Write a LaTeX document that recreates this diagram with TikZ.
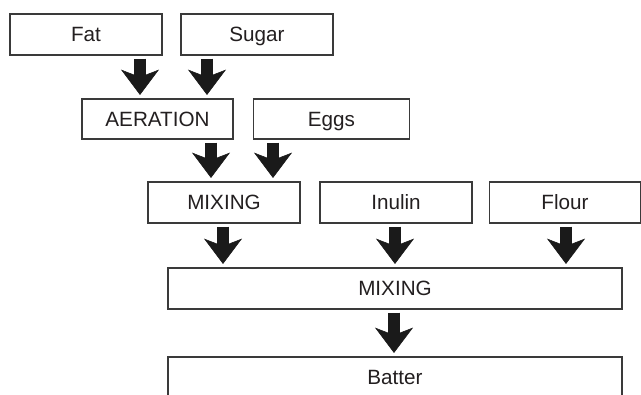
\documentclass[tikz,border=0pt]{standalone}
\usepackage{fontspec}
\setmainfont{Liberation Sans}
\usetikzlibrary{arrows.meta}
\definecolor{boxline}{HTML}{3A3A3A}
\definecolor{txt}{HTML}{231F20}
\definecolor{arr}{HTML}{1A1A1A}
\begin{document}
\begin{tikzpicture}[x=0.75pt,y=-0.75pt,
  box/.style={draw=boxline, line width=0.85pt, fill=white, inner sep=0pt,
    text=txt, font=\fontsize{15.5}{18}\selectfont, minimum height=30.75pt,
    text height=11.1pt, text depth=0pt},
  flowarrow/.style={draw=arr, line width=9pt,
    -{Stealth[length=19pt, width=28.5pt, inset=5.5pt, line width=0.4pt, fill=arr]},
    shorten <=2.25pt, shorten >=2.6pt}]
\useasboundingbox (0,0) rectangle (641,394);
% boxes
\node[box, minimum width=114pt] (fat) at (86,34.5) {Fat};
\node[box, minimum width=114pt] (sugar) at (257,34.5) {Sugar};
\node[box, minimum width=113.25pt, minimum height=30pt] (aer) at (157.5,119) {AERATION};
\node[box, minimum width=117pt, minimum height=30pt] (eggs) at (331.5,119) {Eggs};
\node[box, minimum width=114pt] (mixa) at (224,202.5) {MIXING};
\node[box, minimum width=114pt] (inulin) at (396,202.5) {Inulin};
\node[box, minimum width=113.25pt] (flour) at (565,202.5) {Flour};
\node[box, minimum width=340.5pt] (mixb) at (395,288.5) {MIXING};
\node[box, minimum width=340.5pt] (batter) at (395,377.5) {Batter};
% arrow columns
\coordinate (c1) at (140,0);
\coordinate (c2) at (207,0);
\coordinate (c3) at (211,0);
\coordinate (c4) at (273,0);
\coordinate (c5) at (223,0);
\coordinate (c6) at (395,0);
\coordinate (c7) at (566,0);
\coordinate (c8) at (394,0);
% arrows
\draw[flowarrow] (fat.south -| c1) -- (aer.north -| c1);
\draw[flowarrow] (sugar.south -| c2) -- (aer.north -| c2);
\draw[flowarrow] (aer.south -| c3) -- (mixa.north -| c3);
\draw[flowarrow] (eggs.south -| c4) -- (mixa.north -| c4);
\draw[flowarrow] (mixa.south -| c5) -- (mixb.north -| c5);
\draw[flowarrow] (inulin.south -| c6) -- (mixb.north -| c6);
\draw[flowarrow] (flour.south -| c7) -- (mixb.north -| c7);
\draw[flowarrow] (mixb.south -| c8) -- (batter.north -| c8);
\end{tikzpicture}
\end{document}
